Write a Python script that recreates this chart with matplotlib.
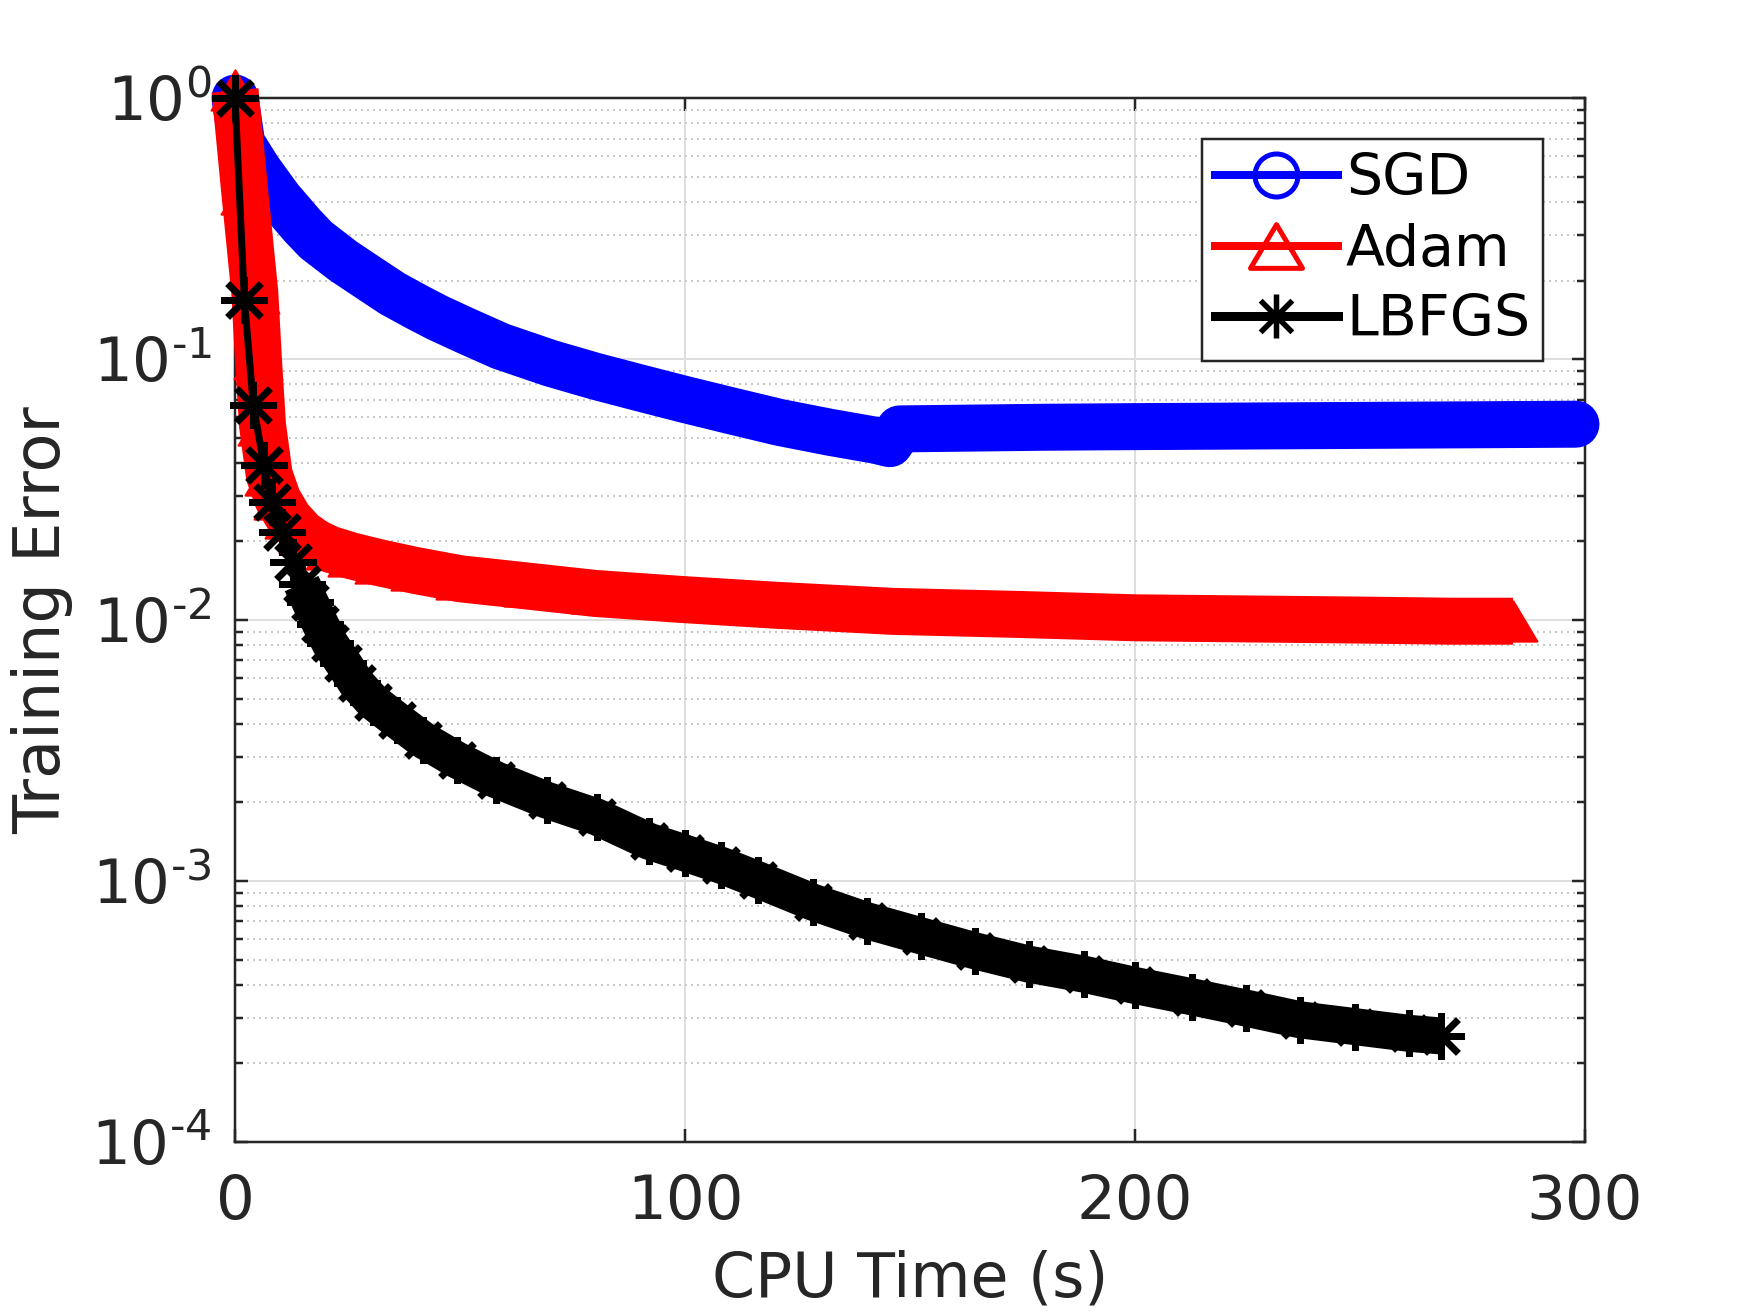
import matplotlib
matplotlib.use('Agg')
import matplotlib.pyplot as plt
from matplotlib.lines import Line2D
from matplotlib.path import Path
import numpy as np

# values (CPU time in s, training error)
sgd_t = [0, 1.5, 5.2, 9.9, 15, 18, 24, 30, 35, 40.5, 45, 51, 59, 70, 80, 90, 100,
         110, 121, 132, 142.5, 145.5, 147.7, 160, 180, 200, 225, 250, 275, 298]
sgd_err = [1.0, 0.67, 0.53, 0.41, 0.324, 0.286, 0.238, 0.203, 0.178, 0.158, 0.144,
           0.129, 0.112, 0.0965, 0.086, 0.0775, 0.070, 0.0635, 0.0572, 0.0525, 0.0488,
           0.0474, 0.054, 0.0543, 0.0548, 0.0551, 0.0554, 0.0557, 0.056, 0.0563]

adam_t = [0, 2.2, 4.4, 5.2, 6.1, 7.6, 9.5, 12, 15, 18, 21, 26, 32, 40, 50, 65, 80,
          99, 120, 146, 175, 200, 225, 250, 270, 284]
adam_err = [1.07, 0.43, 0.179, 0.10, 0.056, 0.036, 0.029, 0.0245, 0.0215, 0.0198,
            0.0187, 0.0176, 0.0166, 0.0155, 0.0144, 0.0135, 0.01265, 0.0120, 0.0114,
            0.0108, 0.0105, 0.0102, 0.0101, 0.0100, 0.0099, 0.0099]

lbfgs_t = [0, 2.07, 4.07, 6.4, 8.15, 10.4, 12.96, 14.8, 16.7, 18.9, 21.1, 24.1, 27.0,
           30.7, 35.9, 41.8, 49.3, 58.1, 69.3, 80.4, 92, 100, 108, 116.3, 128.4,
           140.4, 152.4, 164.5, 176.5, 188.6, 200, 212.7, 224.7, 236.7, 248.8, 260.8, 268]
lbfgs_err = [1.0, 0.169, 0.0667, 0.0393, 0.0284, 0.0218, 0.0167, 0.0138, 0.0117,
             0.0097, 0.00814, 0.00683, 0.00572, 0.00486, 0.00414, 0.00347, 0.00291,
             0.00244, 0.00204, 0.00176, 0.00142, 0.00128, 0.00115, 0.00101, 0.00083,
             0.000705, 0.000617, 0.00054, 0.00048, 0.00044, 0.000398, 0.00036,
             0.000326, 0.000294, 0.000277, 0.000261, 0.000255]

labels = ['SGD', 'Adam', 'LBFGS']
xticks = [0, 100, 200, 300]
ydecades = [-4, -3, -2, -1, 0]

plt.rcParams['font.family'] = 'DejaVu Sans'
plt.rcParams['mathtext.fontset'] = 'dejavusans'

px = 72 / 100  # points per pixel at dpi 100
grey = '#262626'
blue, red, black = '#0000ff', '#ff0000', '#000000'

# matlab style markers: asterisk and a wide triangle
star = Path([(-1, 0), (1, 0), (0, -1), (0, 1), (-.72, -.72), (.72, .72), (-.72, .72), (.72, -.72)],
            [Path.MOVETO, Path.LINETO] * 4)
tri = Path([(-0.5, -0.42), (0.5, -0.42), (0, 0.42), (-0.5, -0.42)],
           [Path.MOVETO, Path.LINETO, Path.LINETO, Path.CLOSEPOLY])

fig = plt.figure(figsize=(17.5, 13.13), dpi=100)
ax = fig.add_axes([0.1343, 0.1302, 0.7714, 0.7951])
ax.set_yscale('log')

# the curves in the original are thousands of overlapping markers -> thick bands
ax.plot(sgd_t, sgd_err, color=blue, lw=47 * px, solid_capstyle='round',
        solid_joinstyle='round', clip_on=False, zorder=3)
ax.plot(adam_t, adam_err, color=red, lw=47 * px, solid_capstyle='butt',
        solid_joinstyle='round', marker=tri, ms=48 * px, mfc=red, mec=red,
        mew=2 * px, clip_on=False, zorder=4)
lt = np.array(lbfgs_t)
le = np.array(lbfgs_err)
dense = lt >= 14
ax.plot(lt[dense], le[dense], color=black, lw=37 * px, solid_capstyle='butt',
        solid_joinstyle='round', clip_on=False, zorder=5)
ax.plot(lt, le, color=black, lw=7 * px, marker=star, ms=47 * px, mfc='none',
        mec=black, mew=7 * px, clip_on=False, zorder=6)

ax.set_xlim(0, 300)
ax.set_ylim(1e-4, 1)
ax.set_xticks(xticks)
ax.set_yticks([10.0 ** k for k in ydecades])
# matlab writes the exponent with a short hyphen
ax.set_yticklabels(['$\\mathdefault{10^{%s}}$' % (('\u2010' + str(-k)) if k < 0 else str(k))
                    for k in ydecades])
ax.grid(True, which='major', color='#dedede', lw=2 * px, ls='-')
ax.grid(True, which='minor', axis='y', color='#c8c8c8', lw=2 * px, ls=(0, (1, 2)))
ax.set_axisbelow(True)

ax.tick_params(which='both', direction='in', top=True, right=True, colors=grey,
               width=2.5 * px, labelsize=44)
ax.tick_params(which='major', length=13 * px)
ax.tick_params(which='minor', length=8 * px)
ax.tick_params(axis='x', pad=31 * px)
ax.tick_params(axis='y', pad=23 * px)
for s in ax.spines.values():
    s.set_color(grey)
    s.set_linewidth(2.5 * px)

ax.set_xlabel('CPU Time (s)', fontsize=44.5, color=grey)
ax.set_ylabel('Training Error', fontsize=46, color=grey)
ax.xaxis.set_label_coords(0.5, -0.1034)
ax.yaxis.set_label_coords(-0.12, 0.5)

handles = [
    Line2D([], [], color=blue, lw=8 * px, marker='o', ms=43 * px, mfc='none', mec=blue, mew=5 * px),
    Line2D([], [], color=red, lw=8 * px, marker=tri, ms=52 * px, mfc='none', mec=red, mew=5 * px),
    Line2D([], [], color=black, lw=9 * px, marker=star, ms=44 * px, mfc='none', mec=black, mew=5.5 * px),
]
leg = ax.legend(handles, labels, loc='upper right', bbox_to_anchor=(0.969, 0.9607),
                borderaxespad=0, fontsize=41, handlelength=2.16, handletextpad=0.14,
                labelspacing=0.27, borderpad=0.23, fancybox=False, framealpha=1,
                edgecolor=grey)
leg.get_frame().set_linewidth(2.5 * px)
leg.set_zorder(10)

fig.savefig('out.png', dpi=100)
